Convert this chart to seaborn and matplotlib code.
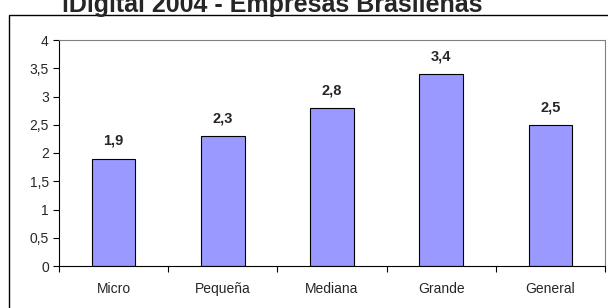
import matplotlib
matplotlib.use("Agg")
import matplotlib.pyplot as plt
import seaborn as sns
import pandas as pd
from matplotlib.patches import Rectangle
from matplotlib.ticker import FixedLocator, FuncFormatter

sns.set_style("white")
plt.rcParams["font.family"] = ["Liberation Sans", "DejaVu Sans"]

# data
categories = ["Micro", "Pequeña", "Mediana", "Grande", "General"]
values = [1.9, 2.3, 2.8, 3.4, 2.5]
title = "iDigital 2004 - Empresas Brasileñas"

df = pd.DataFrame({"Empresa": categories, "Valor": values})

fig = plt.figure(figsize=(6.08, 3.08), dpi=100)
ax = fig.add_axes([59 / 608, 1 - 266 / 308, (605 - 59) / 608, (266 - 40) / 308])

sns.barplot(data=df, x="Empresa", y="Valor", color="#9999FF", saturation=1,
            width=0.4, edgecolor="black", linewidth=0.8, ax=ax)

# value labels above bars
for i, v in enumerate(values):
    ax.text(i, v + 0.19, f"{v:.1f}".replace(".", ","), ha="center", va="bottom",
            fontsize=10.5, fontweight="bold")

ax.set_xlim(-0.5, len(categories) - 0.5)
ax.set_ylim(0, 4)
ax.set_yticks([i * 0.5 for i in range(9)])
ax.yaxis.set_major_formatter(FuncFormatter(lambda y, _: f"{y:g}".replace(".", ",")))
ax.set_xlabel("")
ax.set_ylabel("")

# Excel-style ticks between categories
ax.xaxis.set_minor_locator(FixedLocator([i - 0.5 for i in range(len(categories) + 1)]))
ax.tick_params(axis="x", which="major", length=0, labelsize=10, pad=19.4)
ax.tick_params(axis="x", which="minor", length=4, width=0.8, color="black", direction="out", bottom=True)
ax.tick_params(axis="y", length=4.3, width=0.8, color="black", direction="out", labelsize=10, left=True, pad=3)
for lab in ax.get_xticklabels():
    lab.set_va("baseline")

for side in ["left", "bottom"]:
    ax.spines[side].set_color("black")
    ax.spines[side].set_linewidth(0.8)
for side in ["top", "right"]:
    ax.spines[side].set_color("#808080")
    ax.spines[side].set_linewidth(0.8)

# outer chart frame
fig.patches.append(Rectangle((9 / 608, -0.1), 1.2, 1 - 15 / 308 + 0.1, transform=fig.transFigure,
                             fill=False, edgecolor="black", linewidth=1, zorder=0))

# title is clipped by the top edge in the reference
fig.text(272 / 608, 1 - 12 / 308, title, ha="center", va="baseline",
         fontsize=18, fontweight="bold")

fig.savefig("out.png", dpi=100)
